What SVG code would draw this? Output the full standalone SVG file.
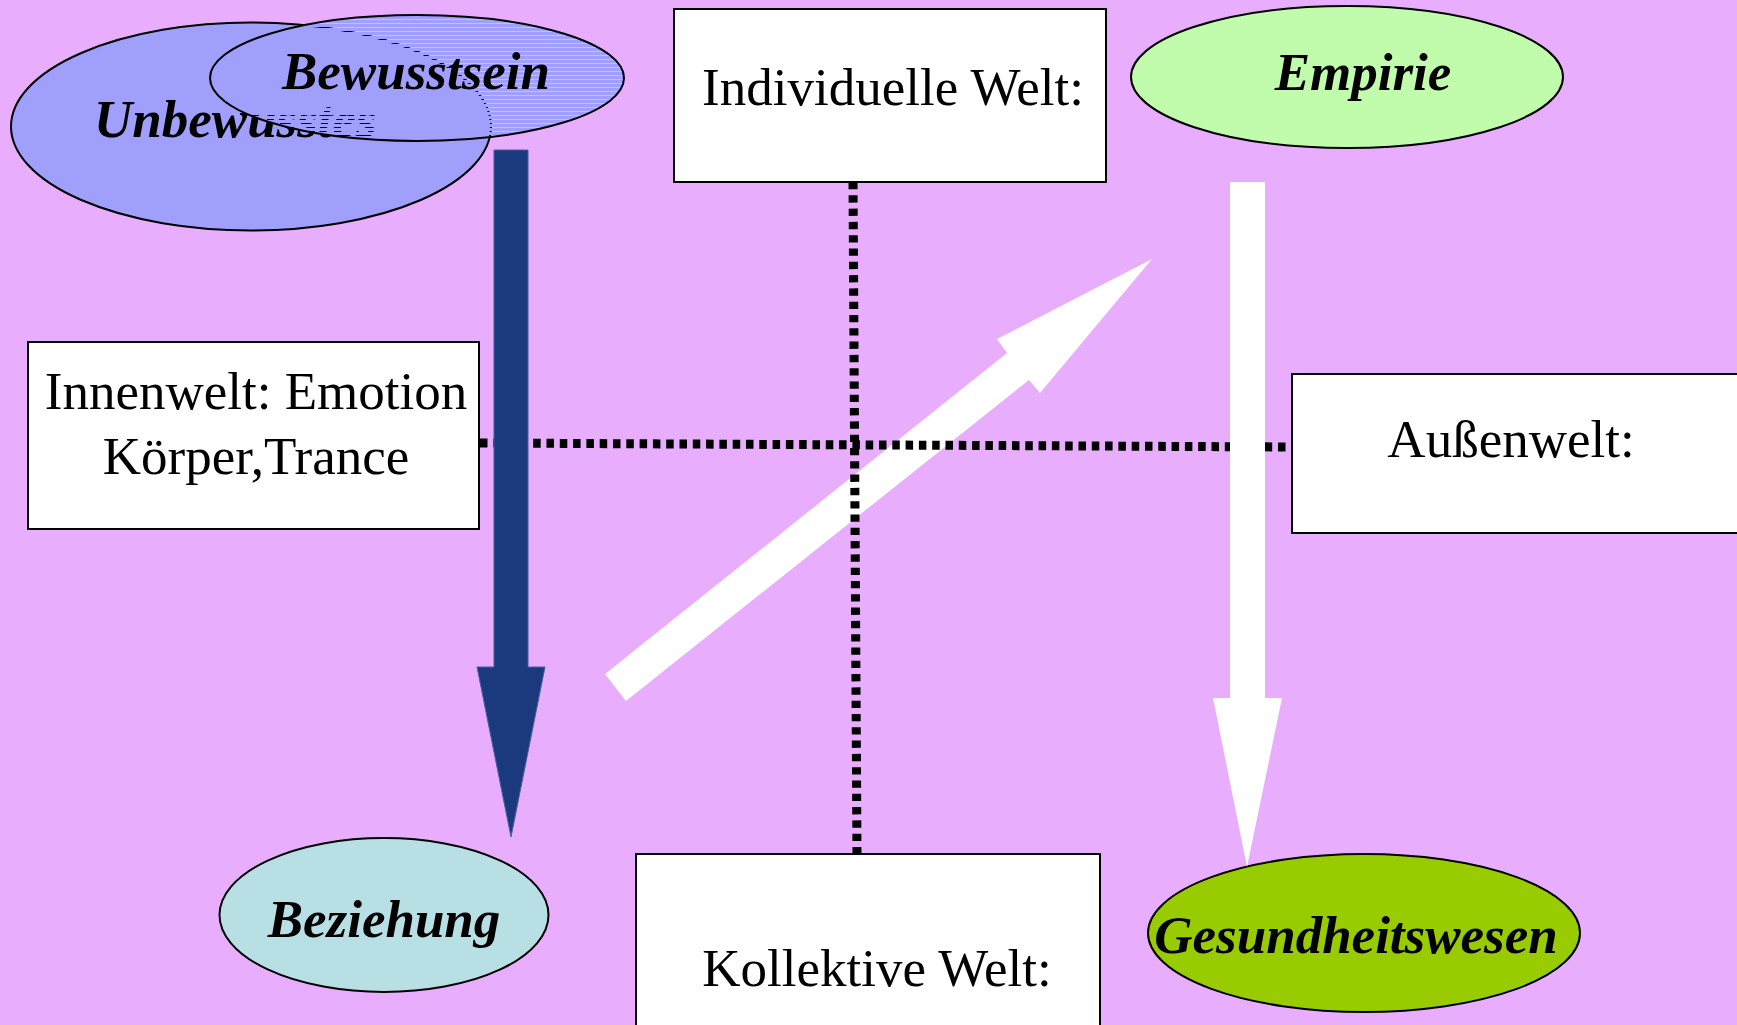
<svg xmlns="http://www.w3.org/2000/svg" width="1737" height="1025" viewBox="0 0 1737 1025">
<style>
.bg{fill:#E8ADFC}
.ell{stroke:#000;stroke-width:2}
.box{fill:#fff;stroke:#000;stroke-width:2}
.lbl{font-family:"Liberation Serif","Times New Roman",serif;font-size:53px;font-weight:bold;font-style:italic;fill:#000;text-anchor:middle}
.txt{font-family:"Liberation Serif","Times New Roman",serif;font-size:53px;fill:#000;text-anchor:middle}
.dotv{fill:none;stroke:#000;stroke-width:9;stroke-dasharray:7.3 6}
.doth{fill:none;stroke:#000;stroke-width:9;stroke-dasharray:7.5 5.8}
</style>
<defs>
<pattern id="stripes" width="8" height="4" patternUnits="userSpaceOnUse">
<rect width="8" height="3" fill="#A0A0FC"/>
</pattern>
</defs>
<rect class="bg" x="0" y="0" width="1737" height="1025"/>

<g id="unbewusstes">
<ellipse class="ell" cx="251" cy="126.5" rx="240" ry="104" fill="#A0A0FC"/>
<text class="lbl" x="94" y="137" style="text-anchor:start">Unbewusstes</text>
</g>
<g id="bewusstsein">
<ellipse class="ell" cx="417" cy="78" rx="207" ry="63" fill="url(#stripes)"/>
<text class="lbl" x="416" y="89">Bewusstsein</text>
</g>
<g id="individuelle-welt">
<rect class="box" x="674" y="9" width="432" height="173"/>
<text class="txt" x="893" y="105">Individuelle Welt:</text>
</g>
<g id="empirie">
<ellipse class="ell" cx="1347" cy="77" rx="216" ry="71" fill="#C0FCAC"/>
<text class="lbl" x="1363" y="90">Empirie</text>
</g>
<g id="innenwelt">
<rect class="box" x="28" y="342" width="451" height="187"/>
<text class="txt" x="256" y="409">Innenwelt: Emotion</text>
<text class="txt" x="256" y="474">Körper,Trance</text>
</g>
<g id="aussenwelt">
<rect class="box" x="1292" y="374" width="460" height="159"/>
<text class="txt" x="1511" y="457">Außenwelt:</text>
</g>
<g id="beziehung">
<ellipse class="ell" cx="384" cy="915" rx="164.5" ry="77" fill="#B8E0E4"/>
<text class="lbl" x="384" y="937">Beziehung</text>
</g>
<g id="kollektive-welt">
<rect class="box" x="636" y="854" width="464" height="190"/>
<text class="txt" x="877" y="986">Kollektive Welt:</text>
</g>
<g id="gesundheitswesen">
<ellipse class="ell" cx="1364" cy="933" rx="216" ry="79" fill="#99CC00"/>
<text class="lbl" x="1356" y="953">Gesundheitswesen</text>
</g>

<g id="connectors">
<polygon fill="#fff" points="605,674 1007,353 997,339 1152,259 1040,393 1029,380 626,701"/>
<line class="doth" x1="480" y1="443" x2="1292" y2="447"/>
<line class="dotv" x1="853" y1="182" x2="857" y2="854"/>
<polygon fill="#1B3A7D" stroke="#4A5EA0" stroke-width="1" points="494,150 528,150 528,667 545,667 511,837 477,667 494,667"/>
<polygon fill="#fff" points="1230,182 1265,182 1265,698 1282,698 1247,867 1213,698 1230,698"/>
</g>
</svg>
